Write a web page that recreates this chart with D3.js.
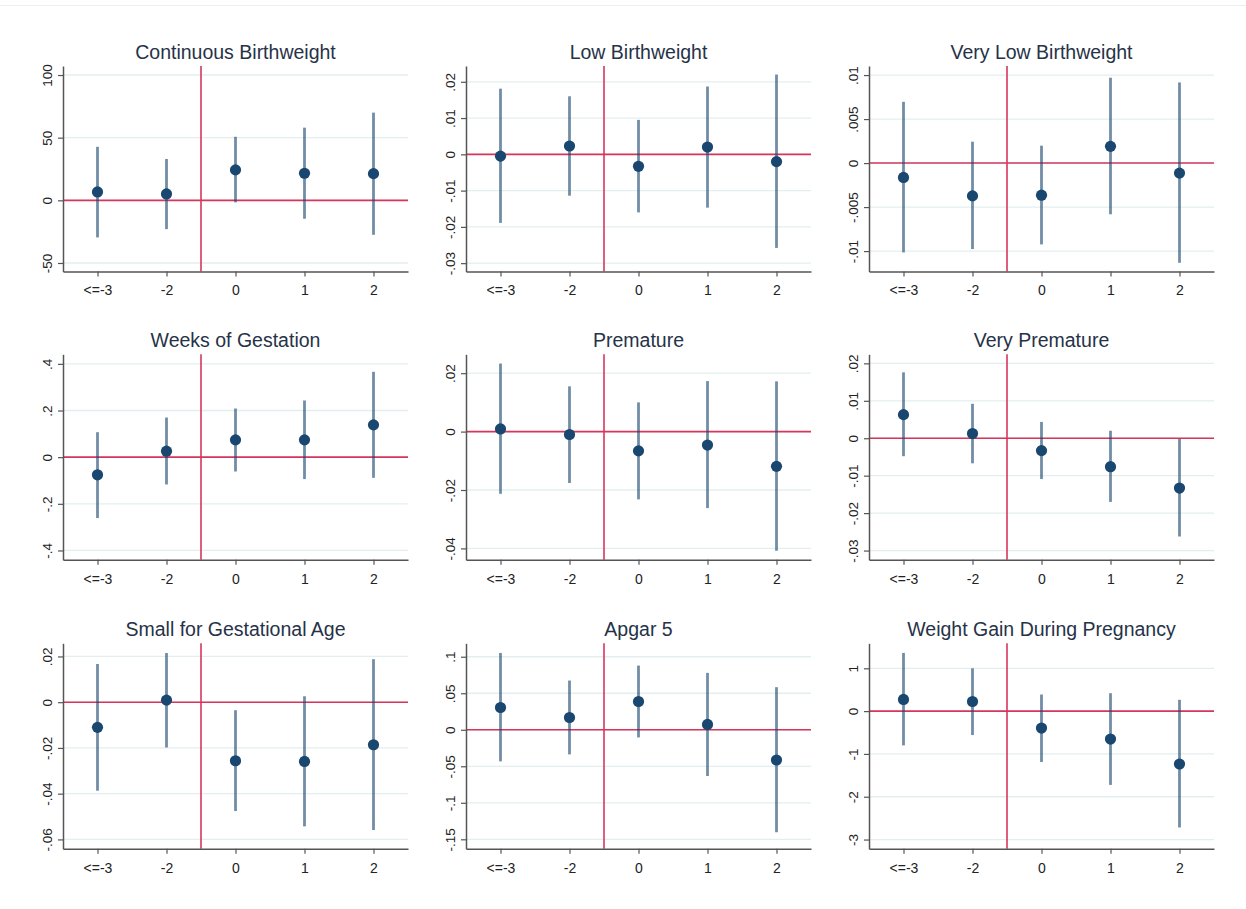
<!DOCTYPE html>
<html>
<head>
<meta charset="utf-8">
<script src="https://cdn.jsdelivr.net/npm/d3@7"></script>
<style>
  html, body { margin: 0; padding: 0; background: #ffffff; }
  svg { display: block; font-family: "Liberation Sans", Arial, sans-serif; }
</style>
</head>
<body>
<svg id="chart" width="1246" height="909"></svg>
<script>
// ---------------- DATA ----------------
const categories = ["<=-3", "-2", "0", "1", "2"];

const titles = [
  "Continuous Birthweight", "Low Birthweight", "Very Low Birthweight",
  "Weeks of Gestation", "Premature", "Very Premature",
  "Small for Gestational Age", "Apgar 5", "Weight Gain During Pregnancy"
];

const estimates = [
  [6.7, 5.1, 24.3, 21.6, 21.3],
  [-0.0005, 0.0023, -0.0033, 0.0020, -0.0020],
  [-0.00163, -0.00373, -0.00365, 0.0019, -0.00114],
  [-0.0757, 0.0257, 0.0743, 0.0743, 0.1386],
  [0.0009, -0.0010, -0.0066, -0.0046, -0.0119],
  [0.0063, 0.00125, -0.0033, -0.0076, -0.0133],
  [-0.0110, 0.0009, -0.0256, -0.0259, -0.0186],
  [0.0305, 0.0168, 0.0387, 0.0073, -0.0414],
  [0.272, 0.225, -0.396, -0.652, -1.235]
];

const ciLow = [
  [-29.6, -23.0, -1.6, -14.7, -27.5],
  [-0.0189, -0.0114, -0.0160, -0.0147, -0.0258],
  [-0.01015, -0.00977, -0.00924, -0.00582, -0.01133],
  [-0.261, -0.117, -0.0614, -0.094, -0.0886],
  [-0.0213, -0.0176, -0.0232, -0.0262, -0.0408],
  [-0.0048, -0.0067, -0.0109, -0.0170, -0.02625],
  [-0.0387, -0.0198, -0.0476, -0.0543, -0.0559],
  [-0.0433, -0.0337, -0.0105, -0.0633, -0.1403],
  [-0.800, -0.559, -1.188, -1.724, -2.718]
];

const ciHigh = [
  [42.7, 33.0, 50.7, 58.0, 70.0],
  [0.0181, 0.0160, 0.0095, 0.0187, 0.0220],
  [0.00696, 0.00243, 0.00198, 0.0097, 0.00916],
  [0.107, 0.170, 0.2086, 0.243, 0.366],
  [0.0233, 0.0155, 0.0100, 0.0173, 0.0172],
  [0.0176, 0.0092, 0.00436, 0.0020, -0.0002],
  [0.0167, 0.0215, -0.0035, 0.0026, 0.0188],
  [0.1052, 0.0674, 0.0879, 0.0779, 0.0583],
  [1.359, 1.000, 0.388, 0.419, 0.264]
];

const yDomains = [
  [-56.8, 107.2],
  [-0.0323, 0.02435],
  [-0.01232, 0.01103],
  [-0.44, 0.441],
  [-0.0439, 0.02647],
  [-0.03247, 0.02242],
  [-0.0641, 0.02575],
  [-0.163, 0.1184],
  [-3.216, 1.584]
];

const yTicks = [
  [-50, 0, 50, 100],
  [-0.03, -0.02, -0.01, 0, 0.01, 0.02],
  [-0.01, -0.005, 0, 0.005, 0.01],
  [-0.4, -0.2, 0, 0.2, 0.4],
  [-0.04, -0.02, 0, 0.02],
  [-0.03, -0.02, -0.01, 0, 0.01, 0.02],
  [-0.06, -0.04, -0.02, 0, 0.02],
  [-0.15, -0.1, -0.05, 0, 0.05, 0.1],
  [-3, -2, -1, 0, 1]
];

const yTickLabels = [
  ["-50", "0", "50", "100"],
  ["-.03", "-.02", "-.01", "0", ".01", ".02"],
  ["-.01", "-.005", "0", ".005", ".01"],
  ["-.4", "-.2", "0", ".2", ".4"],
  ["-.04", "-.02", "0", ".02"],
  ["-.03", "-.02", "-.01", "0", ".01", ".02"],
  ["-.06", "-.04", "-.02", "0", ".02"],
  ["-.15", "-.1", "-.05", "0", ".05", ".1"],
  ["-3", "-2", "-1", "0", "1"]
];

// ---------------- LAYOUT ----------------
const colLeft = [63, 466, 869];
const rowTop = [66, 354.3, 643.3];
const plotW = 345;
const plotH = 205.5;

const svg = d3.select("#chart");

svg.append("line")
  .attr("x1", 0).attr("x2", 1246)
  .attr("y1", 5.5).attr("y2", 5.5)
  .attr("stroke", "#eeeeee").attr("stroke-width", 1);

titles.forEach((title, p) => {
  const col = p % 3, row = Math.floor(p / 3);
  const g = svg.append("g")
    .attr("transform", `translate(${colLeft[col]},${rowTop[row]})`);

  const x = d3.scalePoint().domain(categories).range([0, plotW]).padding(0.5);
  const y = d3.scaleLinear().domain(yDomains[p]).range([plotH, 0]);

  // gridlines
  g.append("g").selectAll("line")
    .data(yTicks[p])
    .join("line")
    .attr("x1", 0).attr("x2", plotW)
    .attr("y1", d => y(d)).attr("y2", d => y(d))
    .attr("stroke", "#e4eef0").attr("stroke-width", 1.3);

  // reference lines
  g.append("line")
    .attr("x1", 0).attr("x2", plotW)
    .attr("y1", y(0)).attr("y2", y(0))
    .attr("stroke", "#d6365c").attr("stroke-width", 1.6);
  const xm = (x(categories[1]) + x(categories[2])) / 2;
  g.append("line")
    .attr("x1", xm).attr("x2", xm)
    .attr("y1", 0).attr("y2", plotH)
    .attr("stroke", "#d6365c").attr("stroke-width", 1.6);

  // confidence intervals
  g.append("g").selectAll("line")
    .data(categories)
    .join("line")
    .attr("x1", d => x(d)).attr("x2", d => x(d))
    .attr("y1", (d, i) => y(ciLow[p][i]))
    .attr("y2", (d, i) => y(ciHigh[p][i]))
    .attr("stroke", "#1a476f").attr("stroke-opacity", 0.62)
    .attr("stroke-width", 2.8);

  // point estimates
  g.append("g").selectAll("circle")
    .data(categories)
    .join("circle")
    .attr("cx", d => x(d))
    .attr("cy", (d, i) => y(estimates[p][i]))
    .attr("r", 5.6)
    .attr("fill", "#1a476f");

  // y axis
  const labels = yTickLabels[p];
  const ticks = yTicks[p];
  const yAxis = d3.axisLeft(y)
    .tickValues(ticks)
    .tickFormat(d => labels[ticks.indexOf(d)])
    .tickSize(5).tickSizeOuter(0);
  const ya = g.append("g").call(yAxis);
  ya.select(".domain").attr("stroke", "#555").attr("stroke-width", 1.5);
  ya.selectAll(".tick line").attr("stroke", "#555").attr("stroke-width", 1.2);
  ya.selectAll(".tick text")
    .attr("x", null).attr("dy", null)
    .attr("transform", "translate(-11,0) rotate(-90)")
    .attr("text-anchor", "middle")
    .attr("font-size", 13.5)
    .attr("fill", "#222");

  // x axis
  const xAxis = d3.axisBottom(x).tickSize(5).tickSizeOuter(0).tickPadding(9);
  const xa = g.append("g").attr("transform", `translate(0,${plotH})`).call(xAxis);
  xa.select(".domain").attr("stroke", "#555").attr("stroke-width", 1.5);
  xa.selectAll(".tick line").attr("stroke", "#555").attr("stroke-width", 1.2);
  xa.selectAll(".tick text").attr("font-size", 14).attr("fill", "#222");

  // title
  g.append("text")
    .attr("x", plotW / 2).attr("y", -7.5)
    .attr("text-anchor", "middle")
    .attr("font-size", 19.5)
    .attr("fill", "#263247")
    .text(title);
});
</script>
</body>
</html>
